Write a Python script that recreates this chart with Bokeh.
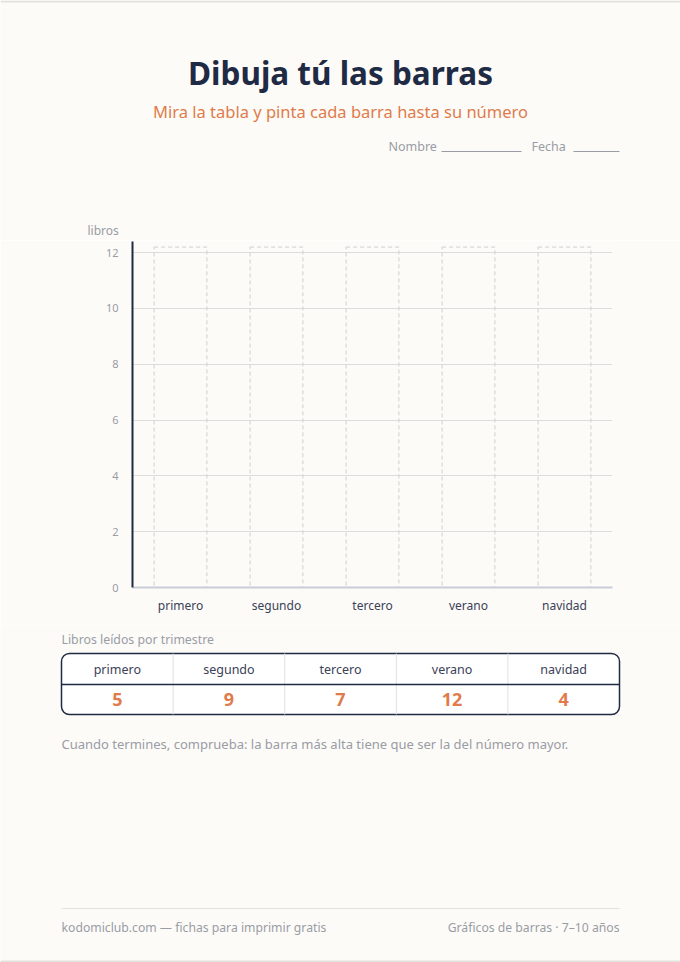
from bokeh.plotting import figure
from bokeh.layouts import column
from bokeh.models import Range1d, BoxAnnotation, FixedTicker
from bokeh.core.properties import value
from bokeh.embed import file_html
from bokeh.resources import INLINE

# ---- data ----
categories = ["primero", "segundo", "tercero", "verano", "navidad"]
books_read = [5, 9, 7, 12, 4]
y_ticks = [0, 2, 4, 6, 8, 10, 12]
guide_top = 12.2   # height of the dashed "draw here" boxes

title_text = "Dibuja tú las barras"
subtitle_text = "Mira la tabla y pinta cada barra hasta su número"
y_label_text = "libros"
table_caption = "Libros leídos por trimestre"
check_text = "Cuando termines, comprueba: la barra más alta tiene que ser la del número mayor."
footer_left = "kodomiclub.com — fichas para imprimir gratis"
footer_right = "Gráficos de barras · 7–10 años"

# ---- style ----
FONT = "Noto Sans"
BG = "#fcfbf7"
NAVY = "#1f2a44"
ORANGE = "#e07b4c"
GRAY = "#9a9ca6"
DARK = "#3b4157"
EDGE = "#e2e2de"
W = 680


def blank(h):
    p = figure(width=W, height=h, output_backend="svg", toolbar_location=None,
               x_range=Range1d(0, W), y_range=Range1d(0, h),
               min_border=0, min_border_left=0, min_border_right=0,
               min_border_top=0, min_border_bottom=0, frame_align=False)
    p.axis.visible = False
    p.grid.visible = False
    p.outline_line_color = None
    p.background_fill_color = BG
    p.border_fill_color = BG
    return p


def txt(p, x, y, s, size, color, align="left", bold=False):
    p.text(x=[x], y=[y], text=[s], text_font=value(FONT),
           text_font_size=value(f"{size}px"), text_color=color,
           text_align=align, text_baseline="middle",
           text_font_style="bold" if bold else "normal")


# ---- header (page y 0..240) ----
H1 = 240
head = blank(H1)
Y1 = lambda v: H1 - v
head.segment(x0=[0], y0=[Y1(1)], x1=[W], y1=[Y1(1)], line_color=EDGE, line_width=2)
txt(head, 340, Y1(72), title_text, 31.5, NAVY, "center", bold=True)
txt(head, 340, Y1(111), subtitle_text, 16.5, ORANGE, "center")
txt(head, 388, Y1(146), "Nombre", 12.5, GRAY)
head.segment(x0=[441, 573], y0=[Y1(151)] * 2, x1=[521, 619], y1=[Y1(151)] * 2,
             line_color=GRAY, line_width=1)
txt(head, 531, Y1(146), "Fecha", 12.5, GRAY)
txt(head, 87, Y1(230), y_label_text, 12, GRAY)

# ---- chart (page y 240..625) ----
chart = figure(width=W, height=385, output_backend="svg", toolbar_location=None,
               x_range=categories, y_range=Range1d(0, 12.4),
               min_border_top=1, min_border_bottom=38,
               min_border_left=132, min_border_right=68, frame_align=False)
chart.background_fill_color = BG
chart.border_fill_color = BG
chart.outline_line_color = None
chart.xgrid.visible = False
chart.ygrid.ticker = FixedTicker(ticks=y_ticks)
chart.ygrid.grid_line_color = "#dddddd"
chart.ygrid.grid_line_width = 1

chart.vbar(x=categories, top=[guide_top] * len(categories), width=0.55, bottom=0,
           fill_color=None, line_color="#cfcfcf", line_width=1, line_dash="4 3")

chart.yaxis.ticker = FixedTicker(ticks=y_ticks)
chart.yaxis.axis_line_color = NAVY
chart.yaxis.axis_line_width = 2
chart.yaxis.major_tick_line_color = None
chart.yaxis.minor_tick_line_color = None
chart.yaxis.major_label_text_font = FONT
chart.yaxis.major_label_text_font_size = "11px"
chart.yaxis.major_label_text_color = GRAY
chart.yaxis.major_label_standoff = 8

chart.xaxis.axis_line_color = "#c8cdd9"
chart.xaxis.axis_line_width = 2
chart.xaxis.major_tick_line_color = None
chart.xaxis.minor_tick_line_color = None
chart.xaxis.major_label_text_font = FONT
chart.xaxis.major_label_text_font_size = "12px"
chart.xaxis.major_label_text_color = DARK
chart.xaxis.major_label_standoff = 3

# ---- table + footer (page y 625..962) ----
H3 = 337
n = len(categories)
col_w = 558 / n
bot = figure(width=W, height=H3, output_backend="svg", toolbar_location=None,
             x_range=Range1d(-61 / col_w, n + 61 / col_w), y_range=Range1d(0, H3),
             min_border=0, min_border_left=0, min_border_right=0,
             min_border_top=0, min_border_bottom=0, frame_align=False)
bot.axis.visible = False
bot.grid.visible = False
bot.outline_line_color = None
bot.background_fill_color = BG
bot.border_fill_color = BG
Y3 = lambda v: H3 - (v - 625)

txt(bot, 0, Y3(639), table_caption, 12.3, GRAY)

box = BoxAnnotation(left=0, right=n, top=Y3(653), bottom=Y3(714),
                    fill_color="white", fill_alpha=1, line_color=NAVY, line_alpha=1,
                    line_width=1.5, border_radius=8, level="underlay")
bot.add_layout(box)
bot.segment(x0=list(range(1, n)), y0=[Y3(653)] * (n - 1), x1=list(range(1, n)),
            y1=[Y3(714)] * (n - 1), line_color="#e0e0e0", line_width=1)
bot.segment(x0=[0], y0=[Y3(684)], x1=[n], y1=[Y3(684)], line_color=NAVY, line_width=1.5)

cx = [i + 0.5 for i in range(n)]
bot.text(x=cx, y=[Y3(669)] * n, text=categories, text_font=value(FONT),
         text_font_size=value("12.5px"), text_color=DARK, text_align="center",
         text_baseline="middle")
bot.text(x=cx, y=[Y3(699)] * n, text=[str(v) for v in books_read], text_font=value(FONT),
         text_font_size=value("18px"), text_color=ORANGE, text_align="center",
         text_baseline="middle", text_font_style="bold")

txt(bot, 0, Y3(743), check_text, 13, GRAY)
bot.segment(x0=[0], y0=[Y3(908)], x1=[n], y1=[Y3(908)], line_color=EDGE, line_width=1)
txt(bot, 0, Y3(927), footer_left, 12.2, GRAY)
txt(bot, n, Y3(927), footer_right, 12.2, GRAY, "right")
bot.segment(x0=[-61 / col_w], y0=[Y3(961)], x1=[n + 61 / col_w], y1=[Y3(961)],
            line_color=EDGE, line_width=2)

layout = column(head, chart, bot, spacing=0)
open("out.html", "w").write(file_html(layout, INLINE))
